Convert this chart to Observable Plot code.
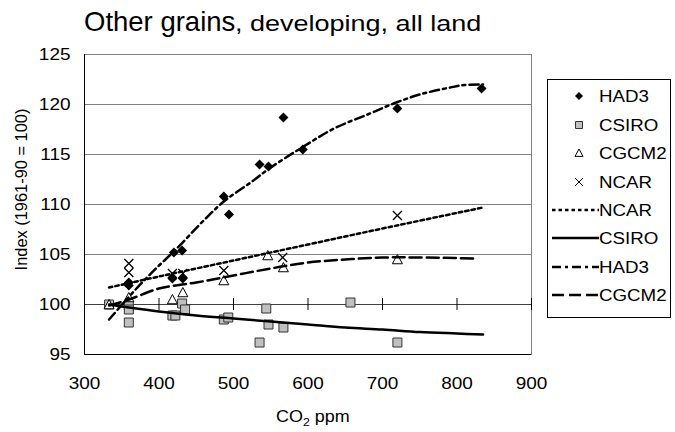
<!DOCTYPE html>
<html>
<head>
<meta charset="utf-8">
<script src="https://cdn.jsdelivr.net/npm/d3@7"></script>
<script src="https://cdn.jsdelivr.net/npm/@observablehq/plot@0.6"></script>
<style>
  html, body { margin: 0; padding: 0; background: #fff; }
  #wrap { position: relative; width: 675px; height: 432px; overflow: hidden; font-family: "Liberation Sans", Arial, sans-serif; color: #000; }
  #title { position: absolute; left: 84px; top: 8px; white-space: nowrap; line-height: 1; }
  #title .big { font-size: 27.5px; }
  #title .small { font-size: 22.5px; display: inline-block; transform: scaleX(1.2); transform-origin: left center; }
  #xlabel { position: absolute; left: 0; width: 626px; text-align: center; top: 409px; font-size: 16px; line-height: 16px; }
  #xlabel .in { display: inline-block; transform: scaleX(1.12); transform-origin: center; }
  #xlabel sub { font-size: 11px; vertical-align: -4px; line-height: 0; }
  #legend { position: absolute; left: 547px; top: 79px; width: 124px; height: 239px; border: 1px solid #000; box-sizing: border-box; background: #fff; }
  .lrow { position: absolute; left: 0; height: 20px; font-size: 16.3px; line-height: 20px; white-space: nowrap; }
  .lrow svg { position: absolute; left: 2px; top: 0; }
  .lrow span { position: absolute; left: 51px; top: 0; display: inline-block; transform: scaleX(1.15); transform-origin: left center; }
</style>
</head>
<body>
<div id="wrap">
  <div id="title"><span class="big">Other grains</span><span class="small">, developing, all land</span></div>
  <div id="chart"></div>
  <div id="xlabel"><span class="in">CO<sub>2</sub> ppm</span></div>
  <div id="legend"></div>
</div>
<script>
// ---- data ----
const had3X  = [333, 359.5, 359.5, 418, 420, 431, 432, 487, 494, 535, 547, 567, 593, 720, 833];
const had3Y  = [100, 102.2, 101.9, 102.6, 105.2, 105.4, 102.6, 110.8, 109.0, 114.0, 113.8, 118.7, 115.5, 119.6, 121.6];

const csiroX = [333, 359.5, 359.5, 359.5, 418, 422, 431, 435, 487, 493, 535, 544, 547, 567, 657, 720];
const csiroY = [100, 99.9, 99.5, 98.2, 98.9, 98.9, 100.1, 99.5, 98.5, 98.7, 96.2, 99.6, 98.0, 97.7, 100.2, 96.2];

const cgcm2X = [333, 359.5, 418, 432, 487, 546, 567, 720];
const cgcm2Y = [100, 100.7, 100.5, 101.2, 102.4, 104.9, 103.7, 104.5];

const ncarX  = [359.5, 359.5, 418, 432, 487, 566, 720];
const ncarY  = [104.1, 103.2, 103.1, 103.1, 103.4, 104.7, 108.9];

// trend lines
const ncarLineX  = [333, 400, 500, 600, 700, 835];
const ncarLineY  = [101.7, 102.8, 104.4, 106.0, 107.6, 109.7];

const csiroLineX = [333, 360, 400, 450, 500, 550, 600, 650, 700, 750, 800, 835];
const csiroLineY = [100.0, 99.7, 99.3, 98.9, 98.6, 98.3, 98.0, 97.7, 97.5, 97.25, 97.1, 97.0];

const had3LineX  = [333, 360, 380, 400, 420, 460, 487, 523, 550, 592, 635, 680, 715, 750, 791, 810, 835];
const had3LineY  = [98.5, 100.8, 102.4, 103.9, 105.3, 108.4, 110.3, 112.2, 113.7, 115.7, 117.6, 119.0, 120.1, 121.0, 121.7, 121.95, 122.0];

const cgcm2LineX = [333, 360, 400, 450, 500, 550, 600, 650, 700, 750, 825];
const cgcm2LineY = [99.9, 100.5, 101.6, 102.2, 102.9, 103.6, 104.2, 104.5, 104.7, 104.7, 104.6];

const xTicks = [300, 400, 500, 600, 700, 800, 900];
const yTicks = [95, 100, 105, 110, 115, 120, 125];
const yLabel = "Index (1961-90 = 100)";

const legendLabels = ["HAD3", "CSIRO", "CGCM2", "NCAR", "NCAR", "CSIRO", "HAD3", "CGCM2"];

// ---- helpers ----
const zip = (xs, ys) => xs.map((x, i) => ({x, y: ys[i]}));
const rad = s => Math.sqrt(s / Math.PI);
const diamond = {draw(c, s) { const r = rad(s); c.moveTo(0, -r); c.lineTo(r, 0); c.lineTo(0, r); c.lineTo(-r, 0); c.closePath(); }};
const square = {draw(c, s) { const r = rad(s); c.rect(-r, -r, 2 * r, 2 * r); }};
const triangle = {draw(c, s) { const r = rad(s); c.moveTo(0, -r); c.lineTo(r, r * 0.85); c.lineTo(-r, r * 0.85); c.closePath(); }};
const cross = {draw(c, s) { const r = rad(s); c.moveTo(-r, -r); c.lineTo(r, r); c.moveTo(r, -r); c.lineTo(-r, r); }};

const had3 = zip(had3X, had3Y), csiro = zip(csiroX, csiroY), cgcm2 = zip(cgcm2X, cgcm2Y), ncar = zip(ncarX, ncarY);
const ncarL = zip(ncarLineX, ncarLineY), csiroL = zip(csiroLineX, csiroLineY), had3L = zip(had3LineX, had3LineY), cgcm2L = zip(cgcm2LineX, cgcm2LineY);

const styles = {
  ncar:  {stroke: "#000", strokeWidth: 2.5, strokeDasharray: "3.5,3"},
  csiro: {stroke: "#000", strokeWidth: 2.5},
  had3:  {stroke: "#000", strokeWidth: 2.5, strokeDasharray: "9,4,3,4"},
  cgcm2: {stroke: "#000", strokeWidth: 2.5, strokeDasharray: "12,5"}
};

const chart = Plot.plot({
  width: 675,
  height: 432,
  marginTop: 54,
  marginBottom: 78,
  marginLeft: 84,
  marginRight: 144,
  style: {fontFamily: "'Liberation Sans', Arial, sans-serif", fontSize: "16.5px", color: "#000", background: "transparent", overflow: "visible"},
  x: {domain: [300, 900], ticks: xTicks, tickSize: 0, tickPadding: 23, tickFormat: d => String(d), label: null},
  y: {domain: [95, 125], ticks: yTicks, tickSize: 0, tickPadding: 14, tickFormat: d => String(d), label: null},
  marks: [
    Plot.ruleY(yTicks, {y: d => d, stroke: "#808080", strokeWidth: 1}),
    Plot.frame({stroke: "#808080"}),
    Plot.ruleX([300], {x: d => d, stroke: "#000"}),
    Plot.ruleY([95], {y: d => d, stroke: "#000"}),
    Plot.ruleY([100], {y: d => d, stroke: "#404040"}),
    Plot.ruleX(xTicks, {x: d => d, y1: 100, y2: 100, insetTop: -6, insetBottom: -6, stroke: "#000"}),
    Plot.dot(had3, {x: "x", y: "y", r: 5, symbol: diamond, fill: "#000", stroke: "none"}),
    Plot.dot(csiro, {x: "x", y: "y", r: 4.5, symbol: square, fill: "#c0c0c0", stroke: "#333", strokeWidth: 1}),
    Plot.dot(cgcm2, {x: "x", y: "y", r: 5, symbol: triangle, fill: "#fff", stroke: "#000", strokeWidth: 1}),
    Plot.dot(ncar, {x: "x", y: "y", r: 4.5, symbol: cross, fill: "none", stroke: "#000", strokeWidth: 1.3}),
    Plot.line(ncarL, {x: "x", y: "y", curve: "catmull-rom", ...styles.ncar}),
    Plot.line(csiroL, {x: "x", y: "y", curve: "catmull-rom", ...styles.csiro}),
    Plot.line(had3L, {x: "x", y: "y", curve: "catmull-rom", ...styles.had3}),
    Plot.line(cgcm2L, {x: "x", y: "y", curve: "catmull-rom", ...styles.cgcm2}),
    Plot.text([yLabel], {text: d => d, frameAnchor: "left", dx: -63, dy: -15, rotate: -90, textAnchor: "middle", fontSize: 16.4, fill: "#000"})
  ]
});
document.getElementById("chart").appendChild(chart);

// widen the tick labels horizontally to match the reference's text proportions
chart.querySelectorAll('[aria-label*="axis"] text').forEach(t => {
  const len = t.getComputedTextLength();
  if (len > 0) { t.setAttribute("textLength", (len * 1.15).toFixed(2)); t.setAttribute("lengthAdjust", "spacingAndGlyphs"); }
});

// ---- legend ----
const legend = document.getElementById("legend");
const rowCenters = [96, 125, 153, 182, 210, 238, 267, 295];
const NS = "http://www.w3.org/2000/svg";
const markerSym = [diamond, square, triangle, cross];
const markerStyle = [
  {fill: "#000", stroke: "none", r: 4},
  {fill: "#c0c0c0", stroke: "#333", r: 3.5},
  {fill: "#fff", stroke: "#000", r: 4},
  {fill: "none", stroke: "#000", r: 4}
];
const lineStyle = [styles.ncar, styles.csiro, styles.had3, styles.cgcm2];
legendLabels.forEach((lab, i) => {
  const row = document.createElement("div");
  row.className = "lrow";
  row.style.top = (rowCenters[i] - 79 - 1 - 10) + "px";
  const svg = document.createElementNS(NS, "svg");
  svg.setAttribute("width", 50); svg.setAttribute("height", 20);
  if (i < 4) {
    const st = markerStyle[i];
    const p = document.createElementNS(NS, "path");
    p.setAttribute("d", d3.symbol(markerSym[i], st.r * st.r * Math.PI)());
    p.setAttribute("transform", "translate(29,10)");
    p.setAttribute("fill", st.fill); p.setAttribute("stroke", st.stroke); p.setAttribute("stroke-width", 1);
    svg.appendChild(p);
  } else {
    const st = lineStyle[i - 4];
    const l = document.createElementNS(NS, "line");
    l.setAttribute("x1", 2); l.setAttribute("x2", 49); l.setAttribute("y1", 10); l.setAttribute("y2", 10);
    l.setAttribute("stroke", st.stroke); l.setAttribute("stroke-width", st.strokeWidth);
    if (st.strokeDasharray) l.setAttribute("stroke-dasharray", st.strokeDasharray);
    svg.appendChild(l);
  }
  row.appendChild(svg);
  const sp = document.createElement("span");
  sp.textContent = lab;
  row.appendChild(sp);
  legend.appendChild(row);
});
</script>
</body>
</html>
